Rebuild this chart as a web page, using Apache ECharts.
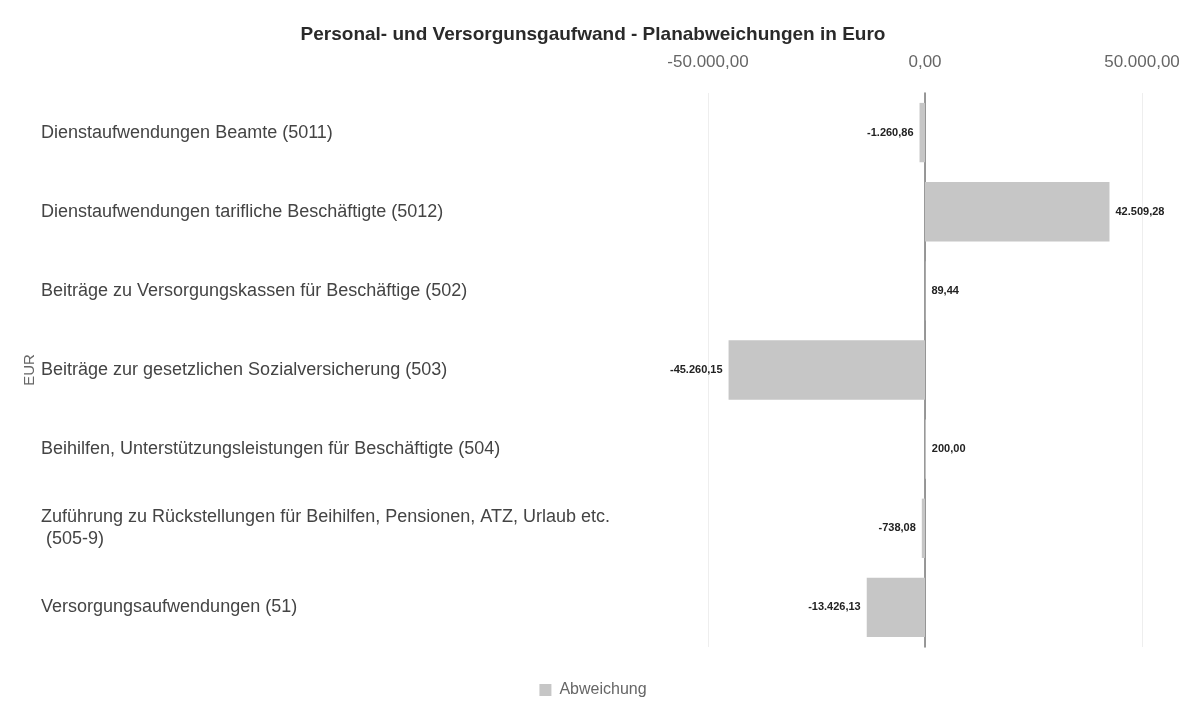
<!DOCTYPE html>
<html>
<head>
<meta charset="utf-8">
<script src="https://cdn.jsdelivr.net/npm/echarts@6/dist/echarts.min.js"></script>
<style>
  html, body { margin: 0; padding: 0; background: #fff; }
  #chart { width: 1186px; height: 701px; }
</style>
</head>
<body>
<div id="chart"></div>
<script>
// Kategorien (von oben nach unten)
const categories = [
  'Dienstaufwendungen Beamte (5011)',
  'Dienstaufwendungen tarifliche Beschäftigte (5012)',
  'Beiträge zu Versorgungskassen für Beschäftige (502)',
  'Beiträge zur gesetzlichen Sozialversicherung (503)',
  'Beihilfen, Unterstützungsleistungen für Beschäftigte (504)',
  'Zuführung zu Rückstellungen für Beihilfen, Pensionen, ATZ, Urlaub etc.\n (505-9)',
  'Versorgungsaufwendungen (51)'
];
const abweichung = [-1260.86, 42509.28, 89.44, -45260.15, 200.00, -738.08, -13426.13];
const xTicks = [-50000, 0, 50000];

const fmt = v => v.toLocaleString('de-DE', { minimumFractionDigits: 2, maximumFractionDigits: 2 });

const chart = echarts.init(document.getElementById('chart'));

chart.setOption({
  backgroundColor: '#fff',
  animation: false,
  title: {
    text: 'Personal- und Versorgunsgaufwand - Planabweichungen in Euro',
    left: 'center',
    top: 20,
    textStyle: { fontFamily: 'Liberation Sans', fontSize: 19, fontWeight: 'bold', color: '#2a2a2a' }
  },
  legend: {
    bottom: 3,
    left: 'center',
    padding: 0,
    itemWidth: 12,
    itemHeight: 12,
    icon: 'rect',
    textStyle: { fontFamily: 'Liberation Sans', fontSize: 16, color: '#666', padding: [0, 0, 0, 3] },
    data: ['Abweichung']
  },
  grid: { left: 708, right: 44, top: 93, bottom: 54 },
  xAxis: {
    type: 'value',
    position: 'top',
    min: xTicks[0],
    max: xTicks[xTicks.length - 1],
    interval: 50000,
    axisLine: { show: false },
    axisTick: { show: false },
    axisLabel: {
      margin: 22,
      fontFamily: 'Liberation Sans',
      fontSize: 17,
      color: '#666',
      formatter: v => fmt(v)
    },
    splitLine: { lineStyle: { color: '#eeeeee' } }
  },
  yAxis: {
    type: 'category',
    inverse: true,
    data: categories,
    name: 'EUR',
    nameLocation: 'middle',
    nameGap: 668,
    nameRotate: 90,
    nameTextStyle: { fontFamily: 'Liberation Sans', fontSize: 15, color: '#666' },
    axisLine: { onZero: true, lineStyle: { color: '#777', width: 1.5 } },
    axisTick: { show: false },
    axisLabel: {
      align: 'left',
      margin: 667,
      fontFamily: 'Liberation Sans',
      fontSize: 18,
      lineHeight: 22,
      color: '#444'
    }
  },
  series: [{
    name: 'Abweichung',
    type: 'bar',
    barWidth: '75%',
    itemStyle: { color: '#c6c6c6' },
    data: abweichung.map(v => ({
      value: v,
      label: { position: v < 0 ? 'left' : 'right' }
    })),
    label: {
      show: true,
      distance: 6,
      fontFamily: 'Liberation Sans',
      fontSize: 11,
      fontWeight: 'bold',
      color: '#222',
      formatter: p => fmt(p.value)
    }
  }]
});
</script>
</body>
</html>
